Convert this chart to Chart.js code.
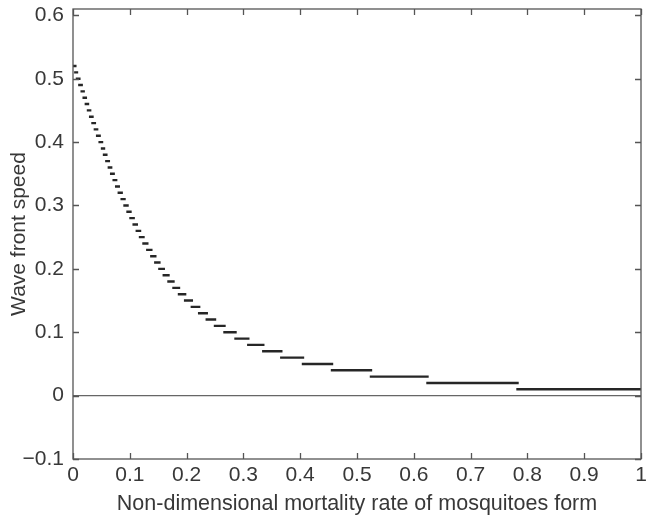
<!DOCTYPE html>
<html><head><meta charset="utf-8">
<script src="https://cdn.jsdelivr.net/npm/chart.js@4.4.0/dist/chart.umd.min.js"></script>
<style>html,body{margin:0;padding:0;background:#fff;overflow:hidden}#c{display:block}</style>
</head><body>
<canvas id="c" width="646" height="519"></canvas>
<script>
// Rounded wave-front speed levels (one horizontal dash per level)
const speedLevels = [0.52,0.51,0.50,0.49,0.48,0.47,0.46,0.45,0.44,0.43,0.42,0.41,0.40,0.39,0.38,0.37,0.36,0.35,0.34,0.33,0.32,0.31,0.30,0.29,0.28,0.27,0.26,0.25,0.24,0.23,0.22,0.21,0.20,0.19,0.18,0.17,0.16,0.15,0.14,0.13,0.12,0.11,0.10,0.09,0.08,0.07,0.06,0.05,0.04,0.03,0.02,0.01];
// Mortality-rate values where the speed level changes (level i spans [b[i], b[i+1]])
const stepBoundaries = [0,0.0041,0.0070,0.0112,0.0153,0.0188,0.0226,0.0264,0.0302,0.0343,0.0385,0.0425,0.0469,0.0511,0.0546,0.0587,0.0631,0.0672,0.0716,0.0760,0.0806,0.0857,0.0907,0.0960,0.1012,0.1068,0.1123,0.1180,0.1241,0.1308,0.1379,0.1449,0.1521,0.1598,0.1681,0.1769,0.1866,0.1974,0.2092,0.2221,0.2355,0.2500,0.2667,0.2861,0.3086,0.3350,0.3667,0.4049,0.4560,0.5246,0.6241,0.7826,1];
const zeroLineX = [0, 1];
const xTickValues = [0,0.1,0.2,0.3,0.4,0.5,0.6,0.7,0.8,0.9,1];
const yTickValues = [-0.1,0,0.1,0.2,0.3,0.4,0.5,0.6];
const xRange = [0, 1];
const yRange = [-0.1, 0.61];
const xTitle = 'Non-dimensional mortality rate of mosquitoes form';
const yTitle = 'Wave front speed';

const stepData = [];
speedLevels.forEach((v, i) => {
  stepData.push({x: stepBoundaries[i], y: v}, {x: stepBoundaries[i+1], y: v}, {x: stepBoundaries[i+1], y: null});
});
const zeroData = zeroLineX.map(x => ({x: x, y: 0}));

const FONT = "'Liberation Sans', Arial, Helvetica, sans-serif";
const TXT = '#383838';
const AX = '#555555';

const boxPlugin = {
  id: 'box',
  afterDatasetsDraw(chart) {
    const {ctx, chartArea: a, scales: {x, y}} = chart;
    ctx.save();
    ctx.strokeStyle = AX;
    ctx.lineWidth = 1.3;
    ctx.strokeRect(a.left, a.top, a.right - a.left, a.bottom - a.top);
    const L = 6;
    ctx.beginPath();
    xTickValues.forEach(v => {
      const px = Math.round(x.getPixelForValue(v)) + 0.5;
      ctx.moveTo(px, a.bottom); ctx.lineTo(px, a.bottom - L);
      ctx.moveTo(px, a.top); ctx.lineTo(px, a.top + L);
    });
    yTickValues.forEach(v => {
      const py = Math.round(y.getPixelForValue(v)) + 0.5;
      ctx.moveTo(a.left, py); ctx.lineTo(a.left + L, py);
      ctx.moveTo(a.right, py); ctx.lineTo(a.right - L, py);
    });
    ctx.stroke();
    ctx.restore();
  }
};

new Chart(document.getElementById('c'), {
  type: 'line',
  data: {
    datasets: [
      {data: zeroData, borderColor: '#666666', borderWidth: 1.3, pointRadius: 0, order: 2},
      {data: stepData, borderColor: '#262626', borderWidth: 2.4, borderCapStyle: 'square', pointRadius: 0, spanGaps: false, order: 1}
    ]
  },
  options: {
    responsive: false,
    animation: false,
    devicePixelRatio: 1,
    layout: {padding: {top: 9, right: 5, left: 0, bottom: 0}},
    plugins: {legend: {display: false}, tooltip: {enabled: false}},
    scales: {
      x: {
        type: 'linear', min: xRange[0], max: xRange[1],
        grid: {display: false, drawTicks: false}, border: {display: false},
        afterBuildTicks(s) { s.ticks = xTickValues.map(v => ({value: v})); },
        afterFit(s) { s.height = 60; s.paddingLeft = 0; s.paddingRight = 0; },
        ticks: {
          font: {family: FONT, size: 21}, color: TXT, padding: 4, maxRotation: 0, autoSkip: false,
          callback: v => (v === 0 ? '0' : v === 1 ? '1' : v.toFixed(1))
        },
        title: {display: true, text: xTitle, font: {family: FONT, size: 21.5}, color: TXT, padding: {top: 0, bottom: 2}}
      },
      y: {
        type: 'linear', min: yRange[0], max: yRange[1],
        grid: {display: false, drawTicks: false}, border: {display: false},
        afterBuildTicks(s) { s.ticks = yTickValues.map(v => ({value: v})); },
        afterFit(s) { s.width = 73; s.paddingTop = 0; s.paddingBottom = 0; },
        ticks: {
          font: {family: FONT, size: 21}, color: TXT, padding: 9, autoSkip: false,
          callback: v => (v === 0 ? '0' : v < 0 ? '\u2212' + Math.abs(v).toFixed(1) : v.toFixed(1))
        },
        title: {display: true, text: yTitle, font: {family: FONT, size: 21}, color: TXT, padding: {top: 7, bottom: 0}}
      }
    }
  },
  plugins: [boxPlugin]
});
</script>
</body></html>
